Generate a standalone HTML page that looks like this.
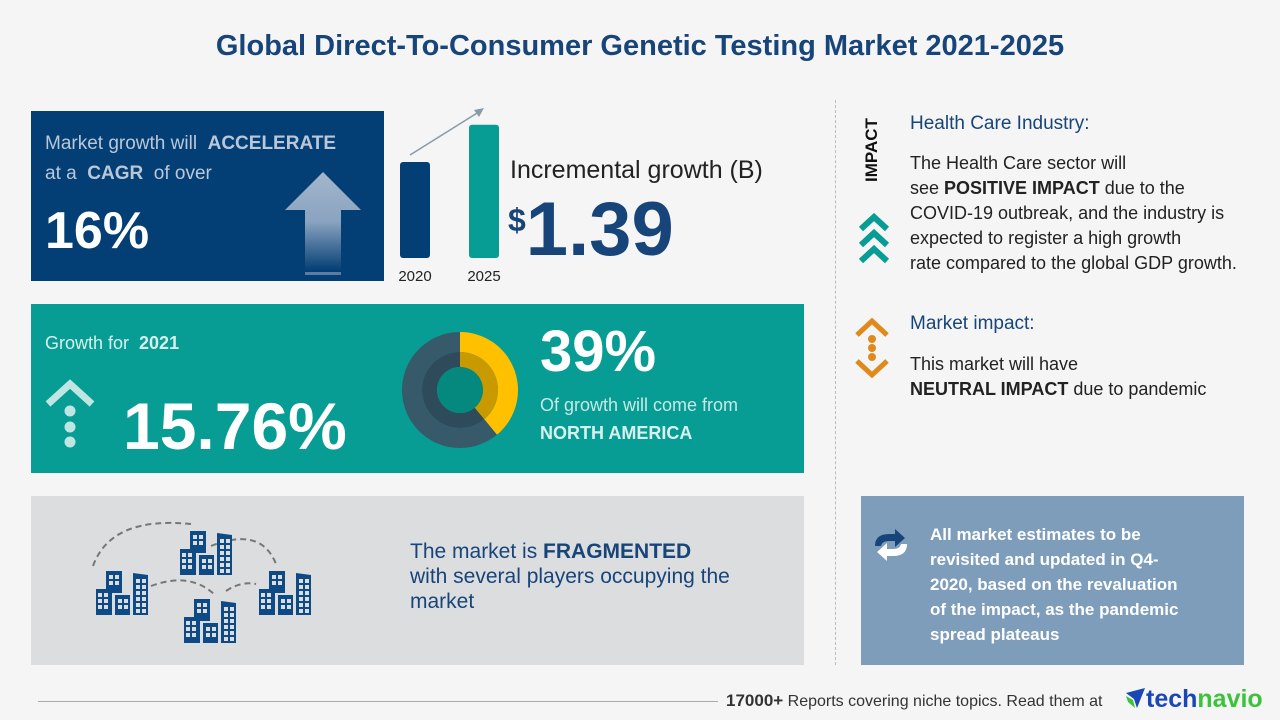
<!DOCTYPE html>
<html><head><meta charset="utf-8">
<style>
body{margin:0;width:1280px;height:720px;background:#f5f5f5;font-family:"Liberation Sans","DejaVu Sans",sans-serif;position:relative;overflow:hidden}
div,span,svg{position:absolute}
.t{white-space:nowrap}
</style></head><body>
<div class="t" style="left:0;width:1280px;top:30px;text-align:center;font-size:29px;font-weight:bold;color:#17457a">Global Direct-To-Consumer Genetic Testing Market 2021-2025</div>

<div style="left:31px;top:111px;width:353px;height:170px;background:#033e74">
  <div class="t" style="left:14px;top:22px;font-size:19px;color:#b9c7d8">Market growth will &nbsp;<b>ACCELERATE</b></div>
  <div class="t" style="left:14px;top:52px;font-size:19px;color:#b9c7d8">at a &nbsp;<b>CAGR</b>&nbsp; of over</div>
  <div class="t" style="left:14px;top:90px;font-size:52px;font-weight:bold;color:#fff">16%</div>
  <svg style="left:254px;top:57px" width="80" height="115">
    <defs><linearGradient id="ag" x1="0" y1="0" x2="0" y2="1"><stop offset="0" stop-color="#a3b6cc"/><stop offset="0.5" stop-color="#8aa3c0"/><stop offset="1" stop-color="#033e74"/></linearGradient></defs>
    <polygon points="38,4 76,42 56,42 56,103 20,103 20,42 0,42" fill="url(#ag)"/>
    <rect x="20" y="104" width="36" height="3" fill="#5d7aa0"/>
  </svg>
</div>

<svg id="mini" style="left:390px;top:100px" width="130" height="190"></svg>
<div class="t" style="left:510px;top:156px;font-size:25px;color:#222">Incremental growth (B)</div>
<div class="t" style="left:508px;top:186px;font-size:76px;font-weight:bold;color:#17457a"><span style="position:relative;font-size:32px;top:-24px">$</span>1.39</div>

<div style="left:31px;top:304px;width:773px;height:169px;background:#079d94">
  <div class="t" style="left:14px;top:29px;font-size:18px;color:#d7efec">Growth for &nbsp;<b>2021</b></div>
  <svg style="left:13px;top:74px" width="52" height="72">
    <polyline points="4,26 26,6 48,26" fill="none" stroke="#bfe6e2" stroke-width="7"/>
    <circle cx="26" cy="33" r="5.5" fill="#bfe6e2"/><circle cx="26" cy="49" r="5.5" fill="#bfe6e2"/><circle cx="26" cy="64" r="5.5" fill="#bfe6e2"/>
  </svg>
  <div class="t" style="left:92px;top:84px;font-size:66px;font-weight:bold;color:#fff">15.76%</div>
  <svg id="donut" style="left:369px;top:26px" width="120" height="120"></svg>
  <div class="t" style="left:509px;top:14px;font-size:58px;font-weight:bold;color:#fff">39%</div>
  <div class="t" style="left:509px;top:91px;font-size:18px;color:#c5e9e5">Of growth will come from</div>
  <div class="t" style="left:509px;top:119px;font-size:18px;font-weight:bold;color:#d9f1ee">NORTH AMERICA</div>
</div>

<div style="left:31px;top:496px;width:773px;height:169px;background:#dcdddf">
  <svg id="city" style="left:50px;top:10px" width="260" height="150"></svg>
  <div class="t" style="left:379px;top:43px;font-size:21px;color:#17457a;line-height:25px">The market is <b>FRAGMENTED</b><br>with several players occupying the<br>market</div>
</div>

<div style="left:835px;top:100px;height:565px;border-left:1px dashed #bbb"></div>

<div class="t" style="left:862px;top:117px;width:24px;height:70px">
  <div style="left:-22px;top:23px;transform:rotate(-90deg);font-size:17px;font-weight:bold;color:#111">IMPACT</div>
</div>
<svg style="left:858px;top:213px" width="32" height="56">
  <g fill="none" stroke="#079d94" stroke-width="6"><polyline points="3,16 16,4 29,16"/><polyline points="3,32 16,20 29,32"/><polyline points="3,48 16,36 29,48"/></g>
</svg>
<div class="t" style="left:910px;top:113px;font-size:19px;color:#17457a">Health Care Industry:</div>
<div class="t" style="left:910px;top:151px;font-size:18px;color:#222;line-height:25px">The Health Care sector will<br>see <b>POSITIVE IMPACT</b> due to the<br>COVID-19 outbreak, and the industry is<br>expected to register a high growth<br>rate compared to the global GDP growth.</div>

<svg style="left:854px;top:315px" width="36" height="64">
  <g fill="none" stroke="#e08a1c" stroke-width="5"><polyline points="3,20 18,6 33,20"/><polyline points="3,46 18,60 33,46"/></g>
  <circle cx="18" cy="24" r="4" fill="#e08a1c"/><circle cx="18" cy="33" r="4" fill="#e08a1c"/><circle cx="18" cy="42" r="4" fill="#e08a1c"/>
</svg>
<div class="t" style="left:910px;top:313px;font-size:19px;color:#17457a">Market impact:</div>
<div class="t" style="left:910px;top:352px;font-size:18px;color:#222;line-height:25px">This market will have<br><b>NEUTRAL IMPACT</b> due to pandemic</div>

<div style="left:861px;top:496px;width:383px;height:169px;background:#7d9dbb">
  <svg style="left:10px;top:32px" width="40" height="34">
    <path d="M4 18 Q4 6 18 6 L24 6 L24 1 L34 10 L24 19 L24 13 L18 13 Q11 13 10 18Z" fill="#17457a"/>
    <path d="M36 16 Q36 28 22 28 L16 28 L16 33 L6 24 L16 15 L16 21 L22 21 Q29 21 30 16Z" fill="#fff"/>
  </svg>
  <div class="t" style="left:69px;top:26px;font-size:17px;font-weight:bold;color:#fff;line-height:25px">All market estimates to be<br>revisited and updated in Q4-<br>2020, based on the revaluation<br>of the impact, as the pandemic<br>spread plateaus</div>
</div>

<div style="left:38px;top:701px;width:680px;height:1px;background:#aaa"></div>
<div class="t" style="left:726px;top:691px;font-size:16px;color:#333"><b style="font-size:17px">17000+</b> Reports covering niche topics. Read them at</div>
<svg style="left:1124px;top:687px" width="22" height="22">
  <polygon points="2,6 21,1 13,21 10,12" fill="#1a47b8"/><polygon points="2,9 9,13 11,21 4,15" fill="#3bc43b"/>
</svg>
<div class="t" style="left:1146px;top:685px;font-size:25px;font-weight:bold;color:#1a47b8">tech<span style="position:relative;color:#3bc43b">navio</span></div>

<script>
// mini bar chart
const years=["2020","2025"];
const barValues=[2.4,3.33];
(function(){
  const s=document.getElementById('mini'),ns='http://www.w3.org/2000/svg';
  const base=158,scale=96/2.4,xs=[10,79];
  years.forEach((y,i)=>{
    const h=barValues[i]*scale;
    const r=document.createElementNS(ns,'rect');
    r.setAttribute('x',xs[i]);r.setAttribute('y',base-h);r.setAttribute('width',30);r.setAttribute('height',h);r.setAttribute('rx',3);
    r.setAttribute('fill',i?'#079d94':'#033e74');
    
    
    s.appendChild(r);
    const t=document.createElementNS(ns,'text');
    t.setAttribute('x',xs[i]+15);t.setAttribute('y',base+23);t.setAttribute('text-anchor','middle');t.setAttribute('font-size','15');t.setAttribute('fill','#222');
    t.textContent=y;
    
    
    s.appendChild(t);
  });
  const l=document.createElementNS(ns,'line');
  l.setAttribute('x1',20);l.setAttribute('y1',55);l.setAttribute('x2',92);l.setAttribute('y2',10);l.setAttribute('stroke','#8a9aa8');l.setAttribute('stroke-width','1.5');
  
  
  s.appendChild(l);
  const p=document.createElementNS(ns,'polygon');p.setAttribute('points','94,8 84,10 89,17');p.setAttribute('fill','#8a9aa8');s.appendChild(p);
})();
// donut
const regions=["North America","Rest"];
const shares=[39,61];
(function(){
  const s=document.getElementById('donut'),ns='http://www.w3.org/2000/svg',cx=60,cy=60;
  const outer=['#ffc000','#375a6a'],inner=['#c99a00','#2d4b5a'];
  function arc(r0,r1,a0,a1,fill,name){
    const p=(r,a)=>(cx+r*Math.sin(a))+','+(cy-r*Math.cos(a));
    const large=(a1-a0)>Math.PI?1:0;
    const e=document.createElementNS(ns,'path');
    e.setAttribute('d','M'+p(r1,a0)+' A'+r1+','+r1+' 0 '+large+' 1 '+p(r1,a1)+' L'+p(r0,a1)+' A'+r0+','+r0+' 0 '+large+' 0 '+p(r0,a0)+'Z');
    e.setAttribute('fill',fill);
    
    
    s.appendChild(e);
  }
  let a=0;const tot=shares.reduce((x,y)=>x+y,0);
  shares.forEach((v,i)=>{
    const b=a+v/tot*2*Math.PI;
    arc(38,58,a,b,outer[i],'donut-slice-'+i);
    arc(23,38,a,b,inner[i],'donut-inner-'+i);
    a=b;
  });
  const c=document.createElementNS(ns,'circle');c.setAttribute('cx',cx);c.setAttribute('cy',cy);c.setAttribute('r',23);c.setAttribute('fill','#05897f');s.appendChild(c);
})();
// buildings
(function(){
  const s=document.getElementById('city'),col='#0d4a86';
  let h='';
  const arcs=['M12 60 Q30 10 110 18','M130 40 Q180 20 195 58','M70 80 Q110 65 135 90','M145 85 Q160 75 175 78'];
  arcs.forEach(d=>h+='<path d="'+d+'" fill="none" stroke="#777" stroke-width="2" stroke-dasharray="6,4"/>');
  function win(x,y,cols,rows){let o='';for(let r=0;r<rows;r++)for(let c=0;c<cols;c++)o+='<rect x="'+(x+c*6)+'" y="'+(y+r*6)+'" width="4" height="4" fill="#dcdddf"/>';return o;}
  function cluster(x,y){
    let o='';
    o+='<rect x="'+(x+10)+'" y="'+y+'" width="16" height="22" fill="'+col+'"/>'+win(x+13,y+4,2,2);
    o+='<rect x="'+x+'" y="'+(y+18)+'" width="16" height="26" fill="'+col+'"/>'+win(x+2,y+22,2,3);
    o+='<rect x="'+(x+19)+'" y="'+(y+24)+'" width="15" height="20" fill="'+col+'"/>'+win(x+22,y+28,2,2);
    o+='<polygon points="'+(x+37)+','+(y+2)+' '+(x+52)+','+(y+4)+' '+(x+52)+','+(y+44)+' '+(x+37)+','+(y+44)+'" fill="'+col+'"/>'+win(x+40,y+8,2,6);
    return o;
  }
  h+=cluster(15,65)+cluster(99,25)+cluster(103,93)+cluster(178,65);
  s.innerHTML=h;
})();
</script>
</body></html>
